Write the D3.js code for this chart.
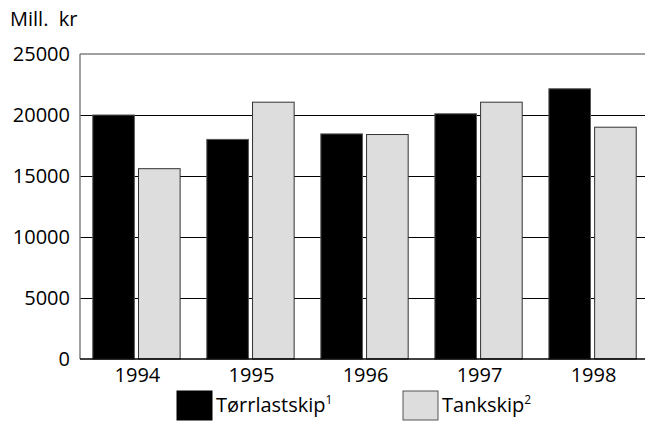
<!DOCTYPE html>
<html>
<head>
<meta charset="utf-8">
<script src="https://cdn.jsdelivr.net/npm/d3@7"></script>
<style>
html,body{margin:0;padding:0;background:#fff;}
svg{display:block;font-family:"Open Sans","Noto Sans",sans-serif;}
</style>
</head>
<body>
<svg id="chart" width="645" height="422"></svg>
<script>
const years = ["1994","1995","1996","1997","1998"];
const dryCargo = [20000, 18000, 18450, 20100, 22150];
const tanker = [15600, 21050, 18400, 21050, 19000];
const yTicks = [0, 5000, 10000, 15000, 20000, 25000];
const seriesNames = ["Tørrlastskip", "Tankskip"];
const seriesSup = ["1", "2"];
const unitLabel = "Mill.  kr";

(function () {
const svg = d3.select("#chart");
const plotLeft = 80, plotTop = 54, plotBottom = 359;

const y = d3.scaleLinear().domain([0, 25000]).range([plotBottom, plotTop]);
const x0 = d3.scaleBand().domain(years).range([plotLeft, 649]).paddingInner(0.234).paddingOuter(0.112);
const x1 = d3.scaleBand().domain([0, 1]).range([0, x0.bandwidth()]).paddingInner(0.09);
const fills = ["#000000", "#dddddd"];
const strokes = ["#555555", "#333333"];

// gridlines
svg.append("g").selectAll("line").data(yTicks.filter(d => d > 0 && d < 25000)).join("line")
  .attr("x1", plotLeft).attr("x2", 645)
  .attr("y1", d => y(d)).attr("y2", d => y(d))
  .attr("stroke", "#000").attr("stroke-width", 1).attr("shape-rendering", "crispEdges");
// top border
svg.append("line").attr("x1", plotLeft).attr("x2", 645).attr("y1", y(25000)).attr("y2", y(25000))
  .attr("stroke", "#808080").attr("stroke-width", 1.5);

// bars
const data = years.map((yr, i) => ({ yr, vals: [dryCargo[i], tanker[i]] }));
const g = svg.append("g").selectAll("g").data(data).join("g")
  .attr("transform", d => `translate(${x0(d.yr)},0)`);
g.selectAll("rect").data(d => d.vals.map((v, k) => ({ v, k }))).join("rect")
  .attr("x", d => x1(d.k)).attr("width", x1.bandwidth())
  .attr("y", d => y(d.v)).attr("height", d => y(0) - y(d.v))
  .attr("fill", d => fills[d.k]).attr("stroke", d => strokes[d.k]).attr("stroke-width", 1);

// axes lines
svg.append("line").attr("x1", plotLeft).attr("x2", plotLeft).attr("y1", plotTop).attr("y2", plotBottom)
  .attr("stroke", "#808080").attr("stroke-width", 1.5);
svg.append("line").attr("x1", plotLeft).attr("x2", 645).attr("y1", plotBottom).attr("y2", plotBottom)
  .attr("stroke", "#000").attr("stroke-width", 1.5);

// y tick labels
svg.append("g").selectAll("text").data(yTicks).join("text")
  .attr("x", plotLeft - 10).attr("y", d => y(d)).attr("dy", "0.35em")
  .attr("text-anchor", "end").attr("font-size", 20).attr("fill", "#000")
  .text(d => d);

// x labels
svg.append("g").selectAll("text").data(years).join("text")
  .attr("x", d => x0(d) + x0.bandwidth() / 2 + 1).attr("y", 382)
  .attr("text-anchor", "middle").attr("font-size", 20).attr("fill", "#000")
  .text(d => d);

// unit label
svg.append("text").attr("x", 10).attr("y", 26).attr("font-size", 20)
  .style("white-space", "pre").text(unitLabel);

// legend
const legX = [177, 403];
seriesNames.forEach((name, k) => {
  svg.append("rect").attr("x", legX[k]).attr("y", 391).attr("width", 35).attr("height", 29)
    .attr("fill", fills[k]).attr("stroke", k === 0 ? "#000" : "#555").attr("stroke-width", 1);
  const t = svg.append("text").attr("x", legX[k] + 39).attr("y", 412).attr("font-size", 20).attr("fill", "#000");
  t.append("tspan").text(name);
  t.append("tspan").attr("font-size", 12).attr("dy", -8).text(seriesSup[k]);
});
})();
</script>
</body>
</html>
